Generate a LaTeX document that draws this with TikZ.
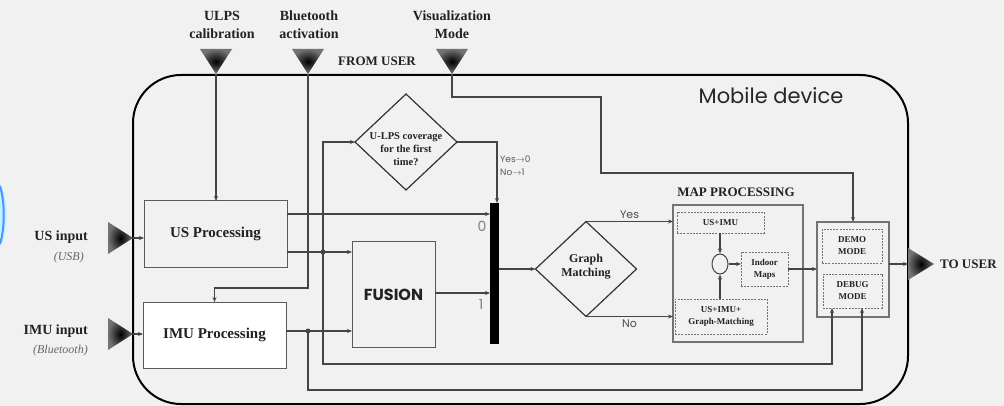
\documentclass[tikz,border=0pt]{standalone}
\usepackage{fontspec}
\setmainfont{Liberation Serif}
\setsansfont{Poppins}
\usetikzlibrary{arrows.meta,shapes.geometric,calc}
\definecolor{bgc}{HTML}{F1F1F1}
\definecolor{lnc}{HTML}{454545}
\definecolor{bdc}{HTML}{5A5A5A}
\definecolor{txc}{HTML}{222222}
\begin{document}
\begin{tikzpicture}[x=1pt,y=-1pt,
  conn/.style={draw=lnc, line width=1.1pt},
  arr/.style={conn,-{Stealth[length=5pt,width=4pt]}},
  solidbox/.style={draw=bdc, line width=1pt, inner sep=0pt, outer sep=0pt, align=center, text=txc},
  dbox/.style={draw=black!55, line width=0.8pt, dash pattern=on 2pt off 1.2pt, inner sep=0pt, outer sep=0pt, align=center, text=txc, font=\bfseries\fontsize{9}{12}\selectfont},
  dia/.style={diamond, draw=black!80, line width=1.2pt, inner sep=0pt, outer sep=0pt},
  lbl/.style={inner sep=0pt, align=center, text=txc},
  dot/.style={circle, fill=lnc, inner sep=0pt, minimum size=5pt},
  tri/.style={inner color=black, outer color=black!55}
]
\useasboundingbox (0,0) rectangle (1004,406);
\fill[bgc] (0,0) rectangle (1004,406);
% blue partial shape at the left edge
\fill[blue!20!cyan!25] (0,183) .. controls (9,200) and (9,230) .. (0,247) -- cycle;
\draw[color=blue!60!cyan!70, line width=2pt] (0,186) .. controls (5,202) and (5,228) .. (0,244);

% outer mobile device frame
\draw[line width=2pt, rounded corners=48pt] (133,75) rectangle (908,404);
\node[lbl, font=\sffamily\fontsize{21}{23}\selectfont, text=black!85] (mobile) at (771,96) {Mobile device};

% top inputs
\shade[tri] (200,49) -- (232,49) -- (216,74) -- cycle;
\shade[tri] (292,49) -- (324,49) -- (308,74) -- cycle;
\shade[tri] (436,49) -- (468,49) -- (452,74) -- cycle;
\coordinate (tulps) at (216,74);
\coordinate (tbt) at (308,74);
\coordinate (tvis) at (452,74);
\node[lbl, font=\bfseries\fontsize{14}{18}\selectfont] (lulps) at (222,25) {ULPS\\calibration};
\node[lbl, font=\bfseries\fontsize{14}{18}\selectfont] (lbt) at (309,25) {Bluetooth\\activation};
\node[lbl, font=\bfseries\fontsize{14}{18}\selectfont] (lvis) at (452,25) {Visualization\\Mode};
\node[lbl, font=\bfseries\fontsize{13}{15}\selectfont] (from) at (377,61) {FROM USER};

% left inputs
\shade[tri] (108,222) -- (108,254) -- (133,238) -- cycle;
\shade[tri] (108,318) -- (108,350) -- (133,334) -- cycle;
\coordinate (tus) at (133,238);
\coordinate (timu) at (133,334);
\node[lbl, anchor=east, font=\bfseries\fontsize{14}{16}\selectfont] (lusin) at (88,237) {US input};
\node[lbl, anchor=east, font=\itshape\fontsize{12}{14}\selectfont, text=black!60] (lusb) at (84,258) {(USB)};
\node[lbl, anchor=east, font=\bfseries\fontsize{14}{16}\selectfont] (limuin) at (88,331) {IMU input};
\node[lbl, anchor=east, font=\itshape\fontsize{12}{14}\selectfont, text=black!60] (lblue) at (88,351) {(Bluetooth)};

% output triangle
\shade[tri] (908,248) -- (908,280) -- (934,264) -- cycle;
\coordinate (tout) at (908,264);
\node[lbl, anchor=west, font=\bfseries\fontsize{13}{15}\selectfont] (touser) at (940,264) {TO USER};

% processing boxes
\node[solidbox, minimum width=143pt, minimum height=66pt, font=\bfseries\fontsize{15}{17}\selectfont] (us) at (215.5,234) {US Processing};
\node[solidbox, fill=white, minimum width=143pt, minimum height=66pt, font=\bfseries\fontsize{15}{17}\selectfont] (imu) at (214.5,335) {IMU Processing};
\node[solidbox, minimum width=83pt, minimum height=105pt, font=\sffamily\bfseries\fontsize{16}{18}\selectfont] (fusion) at (393.5,294.5) {FUSION};
\node[fill=black, inner sep=0pt, outer sep=0pt, minimum width=9pt, minimum height=141pt] (bar) at (494.5,273.5) {};
\node[lbl, font=\sffamily\fontsize{14}{16}\selectfont, text=black!50] (l0) at (482,226) {0};
\node[lbl, font=\sffamily\fontsize{14}{16}\selectfont, text=black!50] (l1) at (481,304) {1};

% U-LPS decision
\node[dia, minimum width=102pt, minimum height=96pt] (ulps) at (406,142) {};
\node[lbl, font=\bfseries\fontsize{10.5}{13}\selectfont] (ulpst) at (406,149) {U-LPS coverage\\for the first\\time?};
\node[lbl, anchor=west, font=\sffamily\fontsize{9}{13}\selectfont, text=black!65, align=left] (yn) at (500,166) {Yes$\rightarrow$0\\No$\rightarrow$1};

% Graph matching decision
\node[dia, minimum width=101pt, minimum height=95pt] (gm) at (586,269) {};
\node[lbl, font=\bfseries\fontsize{12}{14}\selectfont] (gmt) at (586,267) {Graph\\Matching};

% map processing
\node[draw=black!55, line width=1.5pt, inner sep=0pt, outer sep=0pt, minimum width=130pt, minimum height=137pt] (map) at (738,273.5) {};
\node[lbl, font=\bfseries\fontsize{13}{15}\selectfont] (mapt) at (736,192) {MAP PROCESSING};
\node[dbox, minimum width=87pt, minimum height=21pt] (usimu) at (720.5,222.5) {US+IMU};
\node[dbox, minimum width=92pt, minimum height=35pt] (usimugm) at (721,316.5) {US+IMU+\\Graph-Matching};
\node[ellipse, draw=lnc, line width=1pt, inner sep=0pt, minimum width=16pt, minimum height=20pt] (circ) at (720,264) {};
\node[dbox, minimum width=47pt, minimum height=34pt] (maps) at (764.5,269) {Indoor\\Maps};

% modes
\node[draw=black!55, line width=1.5pt, inner sep=0pt, outer sep=0pt, minimum width=72pt, minimum height=95pt] (modes) at (853,269.5) {};
\node[dbox, minimum width=60pt, minimum height=34pt] (demo) at (852,246) {DEMO\\MODE};
\node[dbox, minimum width=59pt, minimum height=34pt] (debug) at (852.5,291) {DEBUG\\MODE};

% connectors from user inputs
\draw[arr] (tulps) -- (us.north -| tulps);
\draw[arr] (tbt) -- (308,288) -| (imu.north);
\draw[arr] (tvis) -- (452,97) -- (601,97) -- (601,173) -- (853,173) -- (modes.north -| 853,173);
\draw[arr] (tus) -- (us.west |- tus);
\draw[arr] (timu) -- (imu.west |- timu);

% US processing outputs
\draw[arr] (us.east |- 0,214) -- (bar.west |- 0,214);
\node[dot] (d1) at (323,252) {};
\draw[arr] (us.east |- d1) -- (fusion.west |- d1);
\draw[arr] (d1.center) -- (323,142) -- (ulps.west);
\draw[arr] (d1.center) -- (323,364) -- (832,364) -- (debug.south -| 832,364);

% IMU processing outputs
\node[dot] (d2) at (308,331) {};
\draw[arr] (imu.east |- d2) -- (fusion.west |- d2);
\draw[arr] (d2.center) -- (308,390) -- (862,390) -- (debug.south -| 862,390);

% fusion & decision to bar
\draw[arr] (fusion.east |- 0,293) -- (bar.west |- 0,293);
\draw[arr] (ulps.east) -- (497,142) -- (bar.north -| 497,142);
\draw[arr] (bar.east |- gm.west) -- (gm.west);

% graph matching branches
\draw[arr] (gm.north) -- (gm.north -| map.west) node[pos=0.5, above=2pt, font=\sffamily\fontsize{11}{13}\selectfont, text=black!70, inner sep=0pt] (lyes) {Yes};
\draw[arr] (gm.south) -- (gm.south -| map.west) node[pos=0.5, below=3pt, font=\sffamily\fontsize{11}{13}\selectfont, text=black!70, inner sep=0pt] (lno) {No};

% inside map processing
\draw[arr] (usimu.south -| circ) -- (circ.north);
\draw[arr] (usimugm.north -| circ) -- (circ.south);
\draw[arr] (circ.east) -- (maps.west |- circ);
\draw[arr] (maps.east) -- (modes.west |- maps.east);

% to user
\draw[arr] (modes.east |- tout) -- (tout);
\end{tikzpicture}
\end{document}
